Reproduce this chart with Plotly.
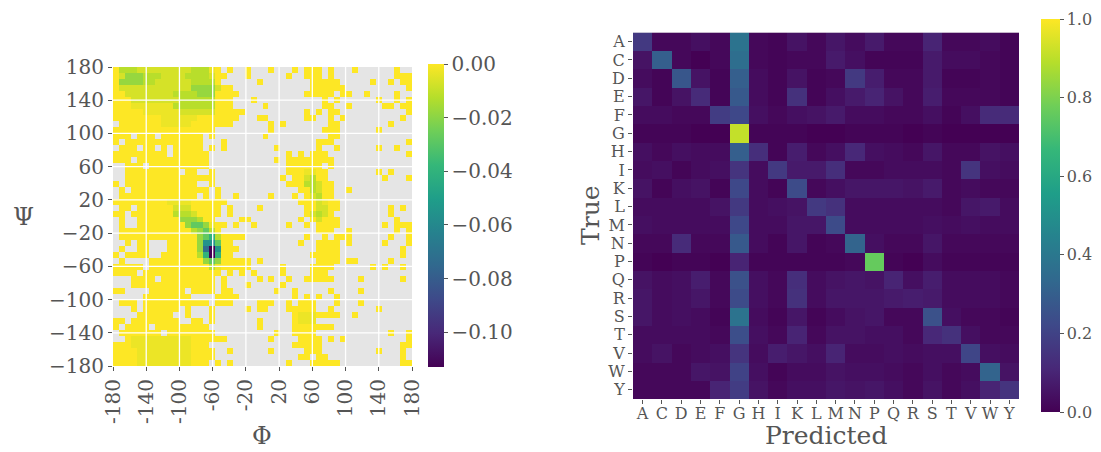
import numpy as np
import plotly.graph_objects as go

# ---------------- Left panel data: Ramachandran-like grid (50 x 50 bins of 7.2 deg) -------------
PHI_TICKS = [-180, -140, -100, -60, -20, 20, 60, 100, 140, 180]
PHI_TICKTEXT = ["-180", "-140", "-100", "-60", "-20", "20", "60", "100", "140", "180"]
PSI_TICKTEXT = ["\u2212180", "\u2212140", "\u2212100", "\u221260", "\u221220", "20", "60", "100", "140", "180"]
N_BINS = 50
BIN_START = -180.0
BIN_WIDTH = 7.2

# occupied (value ~0) runs of bins per row, top row (psi = 180) first; inclusive column indices
OCCUPIED_RUNS = [
    [(0, 17), (19, 19), (22, 22), (26, 26), (30, 30), (32, 34), (36, 36), (40, 40), (47, 47)],
    [(0, 18), (22, 22), (29, 29), (32, 34), (36, 36), (47, 49)],
    [(0, 17), (24, 24), (33, 37), (43, 43), (46, 46), (48, 49)],
    [(0, 19), (33, 38), (49, 49)],
    [(0, 20), (32, 36), (38, 39), (42, 42), (47, 47)],
    [(0, 19), (23, 23), (35, 35), (37, 37), (44, 44), (47, 47), (49, 49)],
    [(0, 19), (25, 25), (35, 36), (39, 39), (45, 46), (48, 49)],
    [(0, 21), (32, 32), (34, 34), (36, 37), (49, 49)],
    [(0, 20), (24, 25), (32, 33), (36, 36), (38, 38), (48, 48)],
    [(1, 19), (26, 26), (28, 28), (36, 37), (46, 46)],
    [(0, 16), (26, 26), (35, 37), (44, 44)],
    [(0, 2), (4, 6), (8, 14), (16, 16), (25, 25), (36, 37)],
    [(0, 0), (2, 14), (18, 18), (34, 36), (49, 49)],
    [(1, 3), (5, 6), (8, 8), (10, 14), (16, 16), (18, 18), (27, 27), (34, 34), (37, 37), (44, 44), (47, 47)],
    [(0, 8), (10, 15), (29, 29), (31, 31), (33, 35), (49, 49)],
    [(0, 2), (4, 15), (27, 27), (29, 36)],
    [(2, 4), (6, 15), (29, 34), (36, 36)],
    [(2, 10), (12, 13), (16, 16), (29, 35), (44, 44), (46, 46)],
    [(2, 16), (28, 28), (30, 35), (45, 45), (49, 49)],
    [(0, 0), (2, 13), (16, 16), (29, 36)],
    [(1, 1), (3, 15), (17, 17), (31, 36), (39, 39)],
    [(1, 13), (15, 15), (17, 17), (20, 20), (26, 26), (30, 30), (32, 36)],
    [(0, 18), (31, 37)],
    [(1, 2), (4, 17), (19, 19), (24, 24), (32, 37), (46, 46), (48, 48)],
    [(0, 1), (3, 17), (19, 19), (32, 36), (46, 46)],
    [(1, 1), (4, 16), (21, 22), (31, 31), (33, 37), (47, 47)],
    [(1, 1), (4, 18), (20, 20), (23, 23), (29, 29), (32, 32), (34, 37), (45, 45), (47, 49)],
    [(1, 17), (34, 36), (39, 39), (47, 47), (49, 49)],
    [(1, 21), (32, 32), (35, 35), (37, 39), (46, 46), (49, 49)],
    [(2, 2), (4, 5), (9, 19), (31, 31), (34, 37), (39, 39), (45, 45), (49, 49)],
    [(1, 1), (4, 5), (9, 20), (34, 37), (48, 48)],
    [(0, 0), (2, 5), (8, 19), (33, 37), (48, 48)],
    [(1, 1), (6, 22), (24, 24), (34, 37), (39, 40), (46, 46)],
    [(0, 4), (6, 22), (28, 28), (33, 36), (43, 43), (45, 45), (48, 48)],
    [(0, 3), (5, 17), (19, 19), (21, 21), (23, 23), (28, 28), (33, 35)],
    [(3, 6), (8, 16), (18, 18), (24, 24), (26, 26), (29, 29), (32, 36), (41, 41), (48, 48)],
    [(3, 16), (18, 18), (22, 22), (28, 28)],
    [(0, 1), (6, 11), (13, 16), (18, 19), (27, 27), (30, 30), (36, 36), (41, 41)],
    [(5, 12), (17, 20), (30, 30), (32, 32), (34, 34), (37, 37)],
    [(1, 3), (5, 15), (17, 19), (24, 26), (29, 29), (31, 33), (37, 37), (41, 41)],
    [(3, 3), (5, 10), (12, 12), (16, 16), (22, 22), (24, 25), (29, 33), (36, 36), (44, 44)],
    [(4, 9), (12, 12), (16, 16), (30, 37), (40, 40)],
    [(0, 1), (3, 10), (13, 14), (16, 16), (24, 24), (30, 33)],
    [(0, 0), (2, 5), (7, 15), (24, 24), (30, 36)],
    [(1, 7), (9, 16), (27, 27), (30, 33), (46, 46), (49, 49)],
    [(2, 18), (26, 26), (31, 34), (36, 36), (38, 38), (49, 49)],
    [(0, 15), (30, 34), (48, 49)],
    [(0, 16), (19, 19), (26, 26), (32, 34), (44, 44), (48, 48)],
    [(0, 16), (31, 32), (34, 35), (48, 48)],
    [(0, 15), (17, 17), (19, 19), (29, 29), (33, 37), (48, 49)],
]

# value levels for the coloured (negative) bins
LEVELS = {"1": -0.003, "2": -0.007, "3": -0.012, "4": -0.018, "5": -0.028,
          "6": -0.040, "7": -0.055, "8": -0.072, "9": -0.113}

# (row from top, first col, last col, level)
TINTS = [
    (0, 1, 3, "3"), (0, 4, 12, "2"), (0, 13, 15, "3"), (0, 16, 16, "1"),
    (1, 1, 1, "2"), (1, 2, 4, "4"), (1, 5, 7, "3"), (1, 8, 11, "2"), (1, 12, 15, "3"), (1, 16, 16, "2"),
    (2, 1, 4, "4"), (2, 5, 6, "3"), (2, 7, 12, "2"), (2, 13, 16, "3"),
    (3, 1, 12, "2"), (3, 13, 16, "4"), (3, 17, 17, "2"),
    (4, 2, 9, "2"), (4, 10, 13, "3"), (4, 14, 16, "4"),
    (5, 3, 10, "2"), (5, 11, 16, "3"),
    (6, 3, 9, "1"), (6, 10, 16, "3"),
    (7, 5, 10, "1"), (7, 11, 16, "2"),
    (8, 8, 13, "1"), (9, 8, 12, "1"),
    (17, 32, 33, "1"), (18, 32, 32, "2"), (18, 33, 33, "3"),
    (19, 32, 33, "3"), (19, 34, 34, "2"), (20, 33, 33, "3"), (20, 34, 34, "2"),
    (21, 33, 33, "2"), (21, 34, 34, "3"), (22, 34, 34, "2"), (22, 35, 35, "1"),
    (23, 34, 35, "2"), (24, 33, 33, "2"), (24, 34, 34, "3"), (24, 35, 35, "2"), (25, 34, 34, "2"),
    (22, 9, 12, "1"), (23, 10, 12, "2"),
    (24, 10, 12, "3"), (24, 13, 13, "2"),
    (25, 11, 13, "4"), (25, 14, 14, "3"),
    (26, 12, 12, "4"), (26, 13, 14, "5"), (26, 15, 15, "4"), (26, 16, 16, "1"),
    (27, 13, 13, "3"), (27, 14, 14, "4"), (27, 15, 15, "5"), (27, 16, 16, "3"),
    (28, 14, 14, "4"), (28, 15, 15, "5"), (28, 16, 16, "6"), (28, 17, 17, "3"),
    (29, 14, 14, "4"), (29, 15, 15, "7"), (29, 16, 16, "7"), (29, 17, 17, "5"),
    (30, 14, 14, "4"), (30, 15, 15, "8"), (30, 16, 16, "9"), (30, 17, 17, "7"),
    (31, 14, 14, "3"), (31, 15, 15, "6"), (31, 16, 16, "9"), (31, 17, 17, "6"),
    (32, 15, 15, "4"), (32, 16, 16, "5"), (32, 17, 17, "4"),
    (33, 16, 16, "3"), (33, 17, 17, "1"),
    (41, 31, 33, "1"), (42, 31, 33, "1"),
    (45, 3, 12, "1"), (46, 3, 12, "1"), (47, 4, 12, "1"), (48, 4, 12, "1"), (49, 4, 12, "1"),
]

# ---------------- Right panel data: confusion matrix -------------
AMINO = ["A", "C", "D", "E", "F", "G", "H", "I", "K", "L", "M", "N", "P", "Q", "R", "S", "T", "V", "W", "Y"]
CONFUSION = [
    [0.17, 0.02, 0.02, 0.04, 0.02, 0.38, 0.02, 0.01, 0.05, 0.02, 0.06, 0.03, 0.07, 0.02, 0.02, 0.10, 0.02, 0.02, 0.03, 0.01],
    [0.05, 0.30, 0.02, 0.00, 0.02, 0.36, 0.02, 0.01, 0.02, 0.02, 0.07, 0.04, 0.01, 0.01, 0.01, 0.07, 0.03, 0.03, 0.02, 0.01],
    [0.03, 0.01, 0.27, 0.05, 0.01, 0.30, 0.03, 0.01, 0.05, 0.01, 0.02, 0.17, 0.08, 0.02, 0.02, 0.07, 0.01, 0.01, 0.02, 0.01],
    [0.06, 0.01, 0.05, 0.12, 0.01, 0.28, 0.03, 0.01, 0.14, 0.01, 0.04, 0.07, 0.10, 0.05, 0.02, 0.08, 0.02, 0.02, 0.02, 0.01],
    [0.03, 0.03, 0.02, 0.02, 0.18, 0.22, 0.04, 0.02, 0.04, 0.05, 0.07, 0.03, 0.03, 0.02, 0.02, 0.04, 0.01, 0.04, 0.12, 0.12],
    [0.01, 0.01, 0.01, 0.00, 0.00, 0.91, 0.01, 0.01, 0.01, 0.00, 0.00, 0.01, 0.01, 0.01, 0.00, 0.01, 0.00, 0.00, 0.00, 0.00],
    [0.04, 0.02, 0.04, 0.03, 0.03, 0.30, 0.13, 0.01, 0.08, 0.02, 0.04, 0.11, 0.04, 0.03, 0.02, 0.06, 0.02, 0.02, 0.05, 0.04],
    [0.03, 0.04, 0.01, 0.03, 0.04, 0.15, 0.03, 0.17, 0.07, 0.07, 0.13, 0.02, 0.02, 0.03, 0.03, 0.03, 0.02, 0.15, 0.04, 0.03],
    [0.05, 0.01, 0.04, 0.05, 0.01, 0.22, 0.03, 0.01, 0.23, 0.02, 0.04, 0.06, 0.06, 0.06, 0.05, 0.07, 0.02, 0.03, 0.02, 0.02],
    [0.03, 0.03, 0.03, 0.03, 0.05, 0.17, 0.03, 0.04, 0.05, 0.17, 0.14, 0.03, 0.03, 0.03, 0.03, 0.03, 0.02, 0.06, 0.07, 0.03],
    [0.04, 0.03, 0.03, 0.03, 0.03, 0.22, 0.03, 0.03, 0.06, 0.06, 0.23, 0.03, 0.03, 0.03, 0.03, 0.04, 0.03, 0.04, 0.03, 0.03],
    [0.02, 0.02, 0.12, 0.02, 0.02, 0.28, 0.03, 0.01, 0.06, 0.01, 0.02, 0.32, 0.04, 0.02, 0.02, 0.06, 0.02, 0.02, 0.02, 0.02],
    [0.01, 0.00, 0.01, 0.01, 0.00, 0.10, 0.01, 0.01, 0.01, 0.01, 0.01, 0.02, 0.76, 0.01, 0.00, 0.03, 0.01, 0.01, 0.01, 0.01],
    [0.05, 0.03, 0.04, 0.08, 0.02, 0.25, 0.04, 0.02, 0.13, 0.03, 0.05, 0.06, 0.05, 0.10, 0.04, 0.08, 0.03, 0.03, 0.03, 0.02],
    [0.06, 0.03, 0.04, 0.06, 0.02, 0.23, 0.04, 0.02, 0.14, 0.03, 0.06, 0.06, 0.06, 0.07, 0.08, 0.07, 0.03, 0.03, 0.03, 0.02],
    [0.06, 0.03, 0.04, 0.03, 0.01, 0.38, 0.03, 0.01, 0.06, 0.01, 0.03, 0.05, 0.06, 0.02, 0.02, 0.25, 0.04, 0.02, 0.02, 0.01],
    [0.03, 0.03, 0.03, 0.03, 0.02, 0.24, 0.04, 0.02, 0.10, 0.02, 0.05, 0.05, 0.04, 0.04, 0.02, 0.11, 0.14, 0.04, 0.02, 0.02],
    [0.03, 0.05, 0.02, 0.03, 0.04, 0.15, 0.03, 0.08, 0.06, 0.04, 0.10, 0.03, 0.03, 0.04, 0.03, 0.04, 0.04, 0.21, 0.04, 0.03],
    [0.02, 0.02, 0.02, 0.06, 0.05, 0.20, 0.04, 0.01, 0.03, 0.03, 0.05, 0.04, 0.04, 0.03, 0.02, 0.04, 0.02, 0.03, 0.32, 0.05],
    [0.02, 0.02, 0.02, 0.02, 0.10, 0.18, 0.05, 0.02, 0.04, 0.04, 0.06, 0.05, 0.06, 0.04, 0.02, 0.05, 0.02, 0.04, 0.10, 0.15],
]
CB1_TICKS = [0.0, -0.02, -0.04, -0.06, -0.08, -0.10]
CB1_TEXT = ["0.00", "\u22120.02", "\u22120.04", "\u22120.06", "\u22120.08", "\u22120.10"]
CB2_TICKS = [0.0, 0.2, 0.4, 0.6, 0.8, 1.0]
CB2_TEXT = ["0.0", "0.2", "0.4", "0.6", "0.8", "1.0"]

# ---------------- build grid -------------
grid = np.full((N_BINS, N_BINS), np.nan)
for r, runs in enumerate(OCCUPIED_RUNS):
    for a, b in runs:
        grid[r, a:b + 1] = 0.0
for r, a, b, lv in TINTS:
    grid[r, a:b + 1] = LEVELS[lv]
grid = grid[::-1]  # first row -> psi = -180
centers = BIN_START + BIN_WIDTH / 2 + BIN_WIDTH * np.arange(N_BINS)

W, H = 1101, 452
FONT = "DejaVu Serif"
GREY = "#555555"


def px_x(p):
    return p / W


def px_y(p):
    return 1 - p / H


fig = go.Figure()
fig.add_trace(go.Heatmap(
    z=grid, x=centers, y=centers, colorscale="Viridis", zmin=-0.113, zmax=0.0,
    xaxis="x", yaxis="y", hoverinfo="skip",
    colorbar=dict(x=px_x(428), xanchor="left", xpad=0, y=px_y(215.5), yanchor="middle", ypad=0,
                  len=303, lenmode="pixels", thickness=16, thicknessmode="pixels", outlinewidth=0,
                  tickvals=CB1_TICKS, ticktext=CB1_TEXT, ticks="outside", ticklen=4, tickcolor=GREY,
                  tickfont=dict(family=FONT, size=20, color=GREY)),
))
fig.add_trace(go.Heatmap(
    z=CONFUSION, x=AMINO, y=AMINO, colorscale="Viridis", zmin=0, zmax=1,
    xaxis="x2", yaxis="y2", hoverinfo="skip",
    colorbar=dict(x=px_x(1041), xanchor="left", xpad=0, y=px_y(215.5), yanchor="middle", ypad=0,
                  len=393, lenmode="pixels", thickness=19, thicknessmode="pixels", outlinewidth=0,
                  tickvals=CB2_TICKS, ticktext=CB2_TEXT, ticks="outside", ticklen=4, tickcolor=GREY,
                  tickfont=dict(family=FONT, size=16, color=GREY)),
))

# white grid lines drawn above the heatmap (ggplot style)
for v in PHI_TICKS[1:-1]:
    fig.add_shape(type="line", xref="x", yref="y", x0=v, x1=v, y0=-180, y1=180,
                  line=dict(color="white", width=1.3), layer="above")
    fig.add_shape(type="line", xref="x", yref="y", y0=v, y1=v, x0=-180, x1=180,
                  line=dict(color="white", width=1.3), layer="above")

axis_common = dict(showgrid=False, zeroline=False, showline=False, ticks="outside", ticklen=4,
                   tickcolor=GREY, tickwidth=1, automargin=False)
fig.update_layout(
    width=W, height=H, margin=dict(l=0, r=0, t=0, b=0, pad=0, autoexpand=False),
    paper_bgcolor="white", plot_bgcolor="#E5E5E5", showlegend=False,
    xaxis=dict(domain=[px_x(113), px_x(412)], range=[-180, 180], anchor="y",
               tickmode="array", tickvals=PHI_TICKS, ticktext=PHI_TICKTEXT, tickangle=-90,
               tickfont=dict(family=FONT, size=20, color=GREY), **axis_common),
    yaxis=dict(domain=[px_y(366), px_y(67)], range=[-180, 180], anchor="x",
               tickmode="array", tickvals=PHI_TICKS, ticktext=PSI_TICKTEXT,
               tickfont=dict(family=FONT, size=20, color=GREY), **axis_common),
    xaxis2=dict(domain=[px_x(633), px_x(1019)], anchor="y2",
                tickmode="array", tickvals=AMINO, ticktext=AMINO, tickangle=0, ticklabelstandoff=-4,
                tickfont=dict(family=FONT, size=16, color=GREY), **axis_common),
    yaxis2=dict(domain=[px_y(399), px_y(32.5)], anchor="x2", autorange="reversed",
                tickmode="array", tickvals=AMINO, ticktext=AMINO,
                tickfont=dict(family=FONT, size=16, color=GREY), **axis_common),
)

annots = [
    dict(text="\u03a8", x=px_x(23), y=px_y(217), textangle=0, size=24),
    dict(text="\u03a6", x=px_x(262), y=px_y(436), textangle=0, size=24),
    dict(text="True", x=px_x(590), y=px_y(215), textangle=-90, size=25),
    dict(text="Predicted", x=px_x(826), y=px_y(435), textangle=0, size=25),
]
for a in annots:
    fig.add_annotation(text=a["text"], x=a["x"], y=a["y"], xref="paper", yref="paper",
                       xanchor="center", yanchor="middle", showarrow=False, textangle=a["textangle"],
                       font=dict(family=FONT, size=a["size"], color=GREY))

fig.write_html("out.html")
